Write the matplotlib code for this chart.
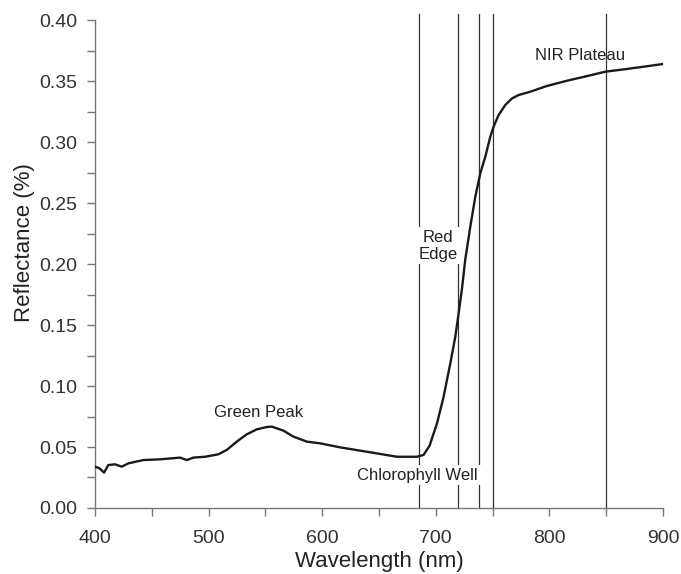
import matplotlib.pyplot as plt

plt.rcParams['font.family'] = ['Liberation Sans', 'DejaVu Sans']

# leaf reflectance spectrum
wavelength = [400, 404, 408, 411.7, 417.6, 423.5, 429.4, 442.6, 457.3, 474.9, 480.8,
              486.6, 496.9, 508.6, 516, 524.8, 533.6, 542.5, 551.3, 555.7, 565.9,
              574.7, 586.5, 598.2, 615.9, 633.5, 651.1, 665.8, 683.4, 689.3, 694.5,
              701.1, 706.9, 712.8, 717.2, 720.1, 723.1, 726, 730.4, 734.8, 739.2,
              743.6, 748, 750.9, 755.3, 761.2, 767.1, 773, 783.3, 797.9, 815.6,
              833.2, 849.3, 865.5, 883.1, 900]
reflectance = [0.0339, 0.0325, 0.029, 0.0352, 0.0358, 0.0339, 0.0366, 0.0393, 0.0399,
               0.0413, 0.0393, 0.0413, 0.042, 0.044, 0.0476, 0.0544, 0.0604, 0.0645,
               0.0664, 0.0667, 0.0634, 0.0585, 0.0544, 0.053, 0.0497, 0.047, 0.0443,
               0.042, 0.042, 0.0435, 0.051, 0.0694, 0.0912, 0.1186, 0.1404, 0.1596,
               0.1800, 0.204, 0.2306, 0.2552, 0.2744, 0.288, 0.3044, 0.3126, 0.3222,
               0.3304, 0.3358, 0.3386, 0.3413, 0.346, 0.3503, 0.3541, 0.3577, 0.3596,
               0.3618, 0.364]

band_lines = [685, 720, 738, 750, 850]

fig = plt.figure(figsize=(6.81, 5.74), dpi=100)
ax = fig.add_axes([0.1395, 0.115, 0.834, 0.85])

for b in band_lines:
    ax.plot([b, b], [0, 0.405], color='#333333', lw=0.9, clip_on=False, zorder=1)

ax.plot(wavelength, reflectance, color='#1a1a1a', lw=1.7, zorder=3)

box = dict(facecolor='white', edgecolor='none', pad=2)
ax.text(702, 0.215, 'Red\nEdge', ha='center', va='center', fontsize=12,
        color='#222222', bbox=box, zorder=2, linespacing=1.15)
ax.text(684, 0.027, 'Chlorophyll Well', ha='center', va='center', fontsize=12,
        color='#222222', bbox=box, zorder=2)
ax.text(544, 0.078, 'Green Peak', ha='center', va='center', fontsize=12, color='#222222')
ax.text(827, 0.371, 'NIR Plateau', ha='center', va='center', fontsize=12, color='#222222')

ax.set_xlim(400, 900)
ax.set_ylim(0, 0.40)
ax.set_xticks([400, 500, 600, 700, 800, 900])
ax.set_xticks([450, 550, 650, 750, 850], minor=True)
ax.set_yticks([0, 0.05, 0.10, 0.15, 0.20, 0.25, 0.30, 0.35, 0.40])
ax.set_yticks([0.025, 0.075, 0.125, 0.175, 0.225, 0.275, 0.325, 0.375], minor=True)
ax.set_yticklabels(['%.2f' % v for v in ax.get_yticks()])

for s in ['top', 'right']:
    ax.spines[s].set_visible(False)
for s in ['left', 'bottom']:
    ax.spines[s].set_color('#777777')
    ax.spines[s].set_linewidth(1.0)
ax.tick_params(which='both', direction='out', color='#777777', labelcolor='#333333',
               labelsize=14, length=6, width=1.0)
ax.tick_params(axis='x', pad=10)
ax.tick_params(axis='y', pad=7)

ax.set_xlabel('Wavelength (nm)', fontsize=16, color='#222222', labelpad=3)
ax.set_ylabel('Reflectance (%)', fontsize=16, color='#222222')
ax.yaxis.set_label_coords(-0.105, 0.543)

plt.savefig('out.png', dpi=100)
